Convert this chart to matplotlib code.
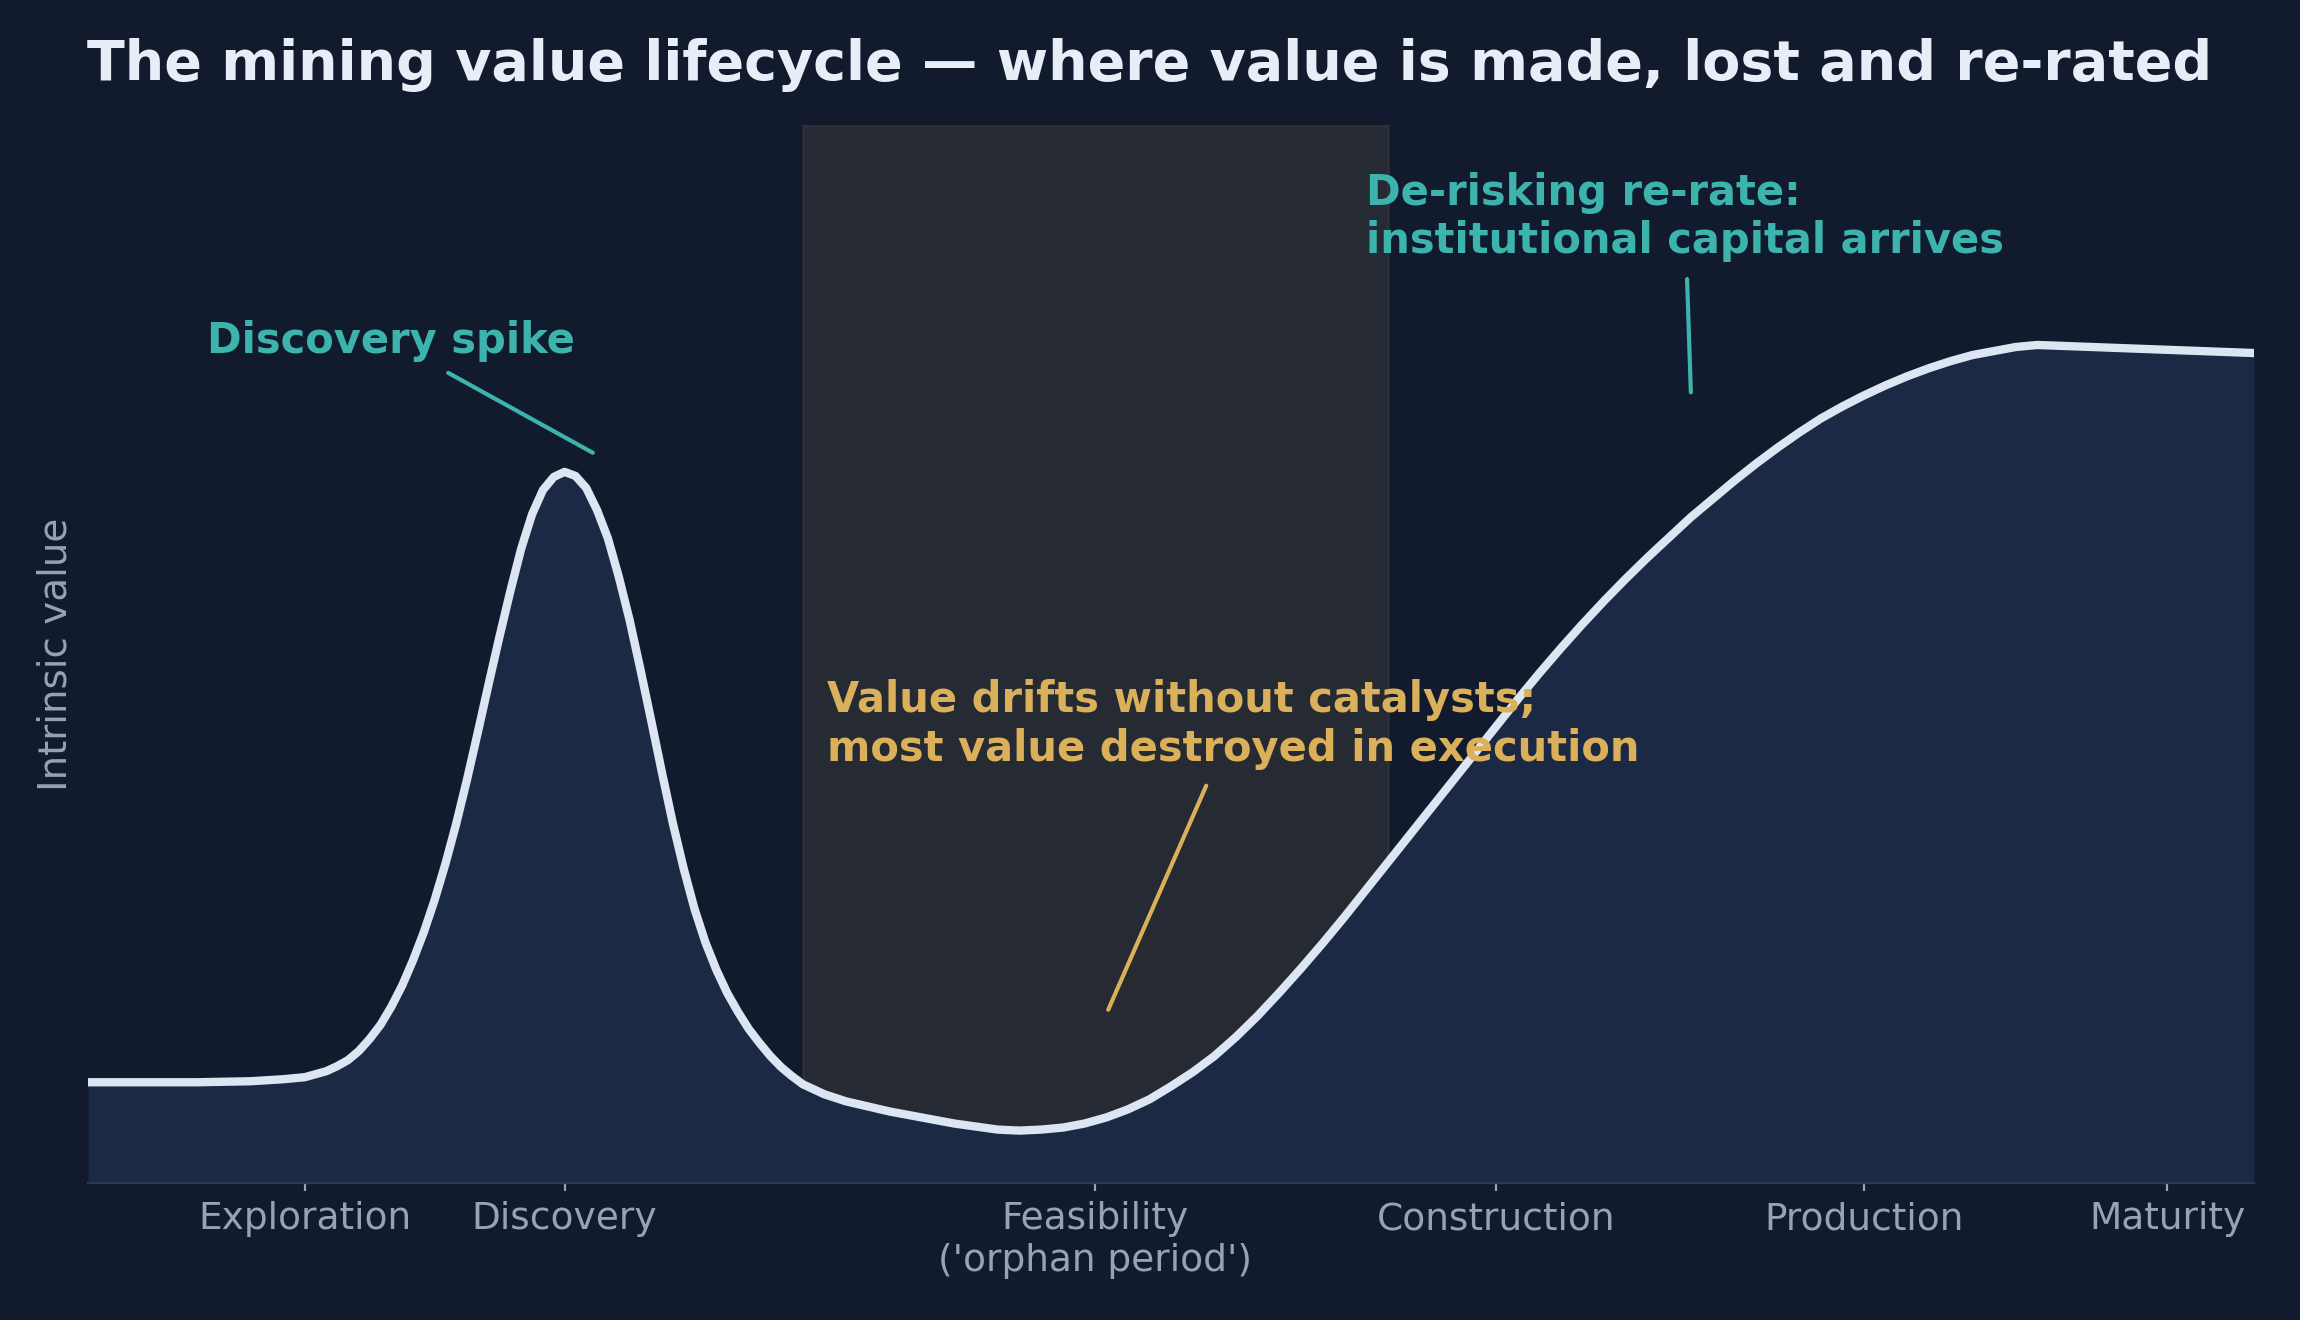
import matplotlib.pyplot as plt

# lifecycle stages on the x axis
stage_x = [1.0, 2.2, 4.65, 6.5, 8.2, 9.6]
stage_labels = ["Exploration", "Discovery", "Feasibility\n('orphan period')",
                "Construction", "Production", "Maturity"]

# intrinsic value curve
x = [0, 0.5, 0.75, 0.9, 1.0, 1.1, 1.15, 1.2, 1.25, 1.3, 1.35, 1.4, 1.45, 1.5,
     1.55, 1.6, 1.65, 1.7, 1.75, 1.8, 1.85, 1.9, 1.95, 2.0, 2.05, 2.1, 2.15,
     2.2, 2.25, 2.3, 2.35, 2.4, 2.45, 2.5, 2.55, 2.6, 2.65, 2.7, 2.75, 2.8,
     2.85, 2.9, 2.95, 3.0, 3.05, 3.1, 3.15, 3.2, 3.25, 3.3, 3.4, 3.5, 3.6,
     3.7, 3.8, 3.9, 4.0, 4.1, 4.2, 4.3, 4.4, 4.5, 4.6, 4.7, 4.8, 4.9, 5.0,
     5.1, 5.2, 5.3, 5.4, 5.5, 5.6, 5.7, 5.8, 5.9, 6.0, 6.1, 6.2, 6.3, 6.4,
     6.5, 6.6, 6.7, 6.8, 6.9, 7.0, 7.1, 7.2, 7.3, 7.4, 7.5, 7.6, 7.7, 7.8,
     7.9, 8.0, 8.1, 8.2, 8.3, 8.4, 8.5, 8.6, 8.7, 8.8, 8.9, 9.0, 10.0]
value = [0.100, 0.100, 0.101, 0.103, 0.105, 0.111, 0.116, 0.122, 0.131, 0.143,
         0.157, 0.175, 0.196, 0.221, 0.249, 0.281, 0.317, 0.357, 0.401, 0.448,
         0.496, 0.543, 0.588, 0.630, 0.664, 0.688, 0.701, 0.706, 0.702, 0.690,
         0.668, 0.640, 0.602, 0.559, 0.510, 0.459, 0.407, 0.357, 0.312, 0.272,
         0.239, 0.212, 0.189, 0.170, 0.153, 0.139, 0.126, 0.115, 0.106, 0.098,
         0.088, 0.081, 0.076, 0.071, 0.067, 0.063, 0.059, 0.056, 0.053, 0.052,
         0.053, 0.055, 0.059, 0.065, 0.073, 0.083, 0.096, 0.110, 0.126, 0.145,
         0.166, 0.189, 0.213, 0.238, 0.264, 0.291, 0.318, 0.345, 0.372, 0.399,
         0.426, 0.453, 0.480, 0.506, 0.531, 0.555, 0.578, 0.600, 0.621, 0.641,
         0.661, 0.679, 0.697, 0.714, 0.730, 0.745, 0.759, 0.771, 0.782, 0.792,
         0.801, 0.809, 0.816, 0.822, 0.826, 0.830, 0.832, 0.824]

orphan = (3.3, 6.0)

bg = "#111b2d"
teal = "#3db3ad"
gold = "#dbb05a"
muted = "#94a3b8"

fig, ax = plt.subplots(figsize=(11.5, 6.6), dpi=200)
fig.patch.set_facecolor(bg)
ax.set_facecolor(bg)
fig.subplots_adjust(left=0.0383, right=0.98, bottom=0.1038, top=0.905)

ax.axvspan(orphan[0], orphan[1], color="#3a3a3a", alpha=0.5, zorder=0)
ax.fill_between(x, value, color="#1b2945", lw=0, zorder=1)
ax.plot(x, value, color="#dce6f2", lw=3, zorder=2, solid_joinstyle="round")

ax.set_xlim(0, 10)
ax.set_ylim(0, 1.05)

ax.set_xticks(stage_x)
ax.set_xticklabels(stage_labels, fontsize=13.5, color=muted)
ax.tick_params(axis="x", colors=muted, length=3, width=0.8)
ax.set_yticks([])
ax.set_ylabel("Intrinsic value", fontsize=14, color=muted, labelpad=5)

for s in ["top", "right", "left"]:
    ax.spines[s].set_visible(False)
ax.spines["bottom"].set_color("#2a3a55")

ax.annotate("Discovery spike", xy=(2.33, 0.725), xytext=(0.547, 0.836),
            ha="left", va="center", fontsize=15, fontweight="bold", color=teal,
            arrowprops=dict(arrowstyle="-", color=teal, lw=1.5, shrinkA=4, shrinkB=0))

ax.annotate("Value drifts without catalysts;\nmost value destroyed in execution",
            xy=(4.71, 0.172), xytext=(3.41, 0.455),
            ha="left", va="center", fontsize=15, fontweight="bold", color=gold,
            arrowprops=dict(arrowstyle="-", color=gold, lw=1.5, shrinkA=4, shrinkB=0))

ax.annotate("De-risking re-rate:\ninstitutional capital arrives",
            xy=(7.4, 0.785), xytext=(5.9, 0.959),
            ha="left", va="center", fontsize=15, fontweight="bold", color=teal,
            arrowprops=dict(arrowstyle="-", color=teal, lw=1.5, shrinkA=4, shrinkB=0))

fig.suptitle("The mining value lifecycle — where value is made, lost and re-rated",
             x=0.5, y=0.951, va="center", fontsize=20, fontweight="bold", color="#e8eef7")

fig.savefig("out.png", dpi=200, facecolor=bg)
